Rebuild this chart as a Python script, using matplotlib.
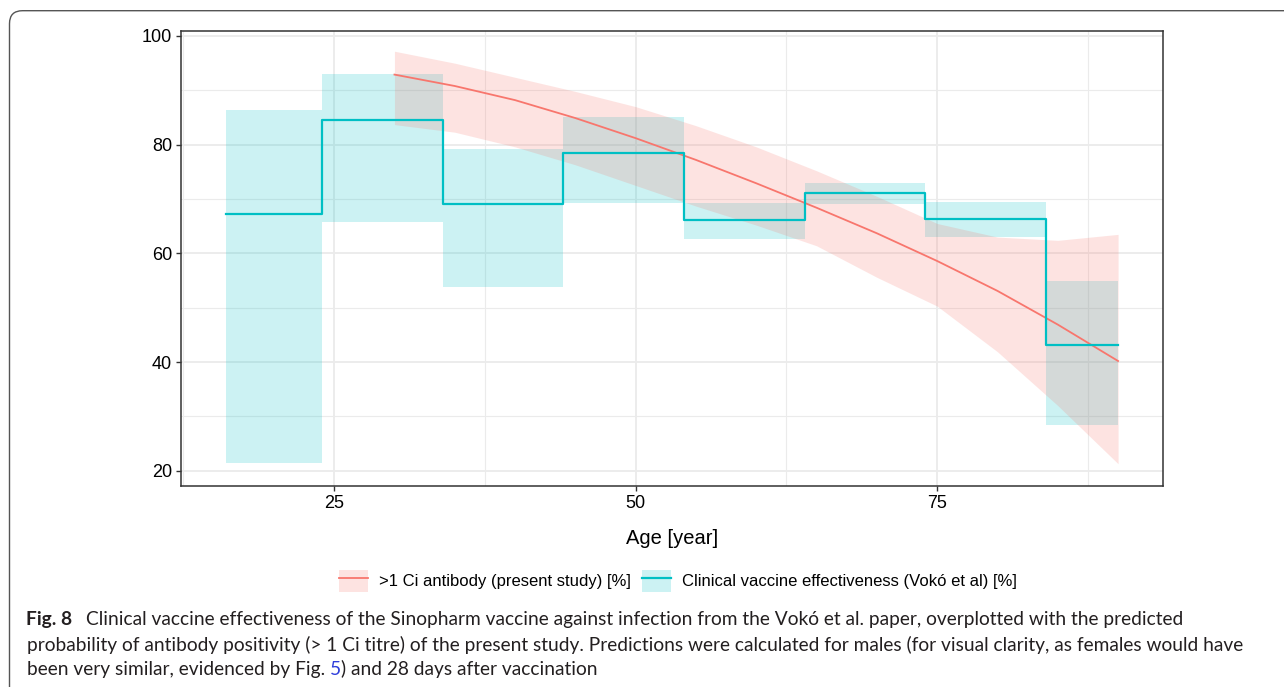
import matplotlib.pyplot as plt
import matplotlib.patches as mpatches
from matplotlib.lines import Line2D
from matplotlib.legend_handler import HandlerTuple

# clinical vaccine effectiveness by age band (Vokó et al)
ve_edges = [16, 24, 34, 44, 54, 64, 74, 84, 90]
ve_mid = [67.3, 84.5, 69.0, 78.5, 66.1, 71.1, 66.4, 43.2]
ve_low = [21.5, 65.8, 53.8, 69.2, 62.6, 69.0, 63.1, 28.5]
ve_high = [86.3, 93.0, 79.3, 85.1, 69.2, 73.0, 69.4, 54.9]

# predicted probability of >1 Ci antibody (males, 28 days)
ab_age = [30, 35, 40, 45, 50, 55, 60, 65, 70, 75, 80, 85, 90]
ab_pred = [92.9, 90.8, 88.2, 84.9, 81.2, 77.2, 72.9, 68.4, 63.7, 58.6, 53.1, 46.9, 40.2]
ab_low = [83.7, 82.3, 79.6, 76.3, 72.5, 68.7, 65.2, 61.4, 55.6, 50.3, 41.9, 32.0, 21.3]
ab_high = [97.2, 95.0, 92.4, 89.8, 87.0, 83.5, 79.6, 75.2, 70.5, 65.5, 63.0, 62.4, 63.5]

RED = '#F8766D'
CYAN = '#00BFC4'

plt.rcParams['font.family'] = ['Liberation Sans', 'DejaVu Sans']

fig = plt.figure(figsize=(12.84, 6.87), dpi=100)
ax = fig.add_axes([181 / 1284, 1 - 486 / 687, (1162.7 - 181) / 1284, (486 - 31) / 687])

# step series needs the last value repeated for the closing edge
ax.fill_between(ve_edges, ve_low + ve_low[-1:], ve_high + ve_high[-1:], step='post',
                color=CYAN, alpha=0.2, lw=0, zorder=2)
ax.fill_between(ab_age, ab_low, ab_high, color=RED, alpha=0.2, lw=0, zorder=2)
ax.plot(ab_age, ab_pred, color=RED, lw=1.3, zorder=3)
ax.step(ve_edges, ve_mid + ve_mid[-1:], where='post', color=CYAN, lw=1.6, zorder=4)

ax.set_xlim(12.3, 93.7)
ax.set_ylim(17.2, 100.92)
ax.set_xticks([25, 50, 75])
ax.set_xticks([12.5, 37.5, 62.5, 87.5], minor=True)
ax.set_yticks([20, 40, 60, 80, 100])
ax.set_yticks([30, 50, 70, 90], minor=True)
ax.grid(which='major', color='#EBEBEB', lw=1.3, zorder=0)
ax.grid(which='minor', color='#EBEBEB', lw=0.8, zorder=0)
ax.set_axisbelow(True)
ax.tick_params(which='major', length=3.5, width=1.0, color='#333333', labelsize=13,
               labelcolor='black', pad=3)
ax.tick_params(which='minor', length=0)
for s in ax.spines.values():
    s.set_color('#333333')
    s.set_linewidth(1.1)

ax.set_xlabel('Age [year]', fontsize=14.5, labelpad=12)

handles = [
    (mpatches.Patch(facecolor=RED, alpha=0.2, lw=0), Line2D([], [], color=RED, lw=1.3)),
    (mpatches.Patch(facecolor=CYAN, alpha=0.2, lw=0), Line2D([], [], color=CYAN, lw=1.6)),
]
labels = ['>1 Ci antibody (present study) [%]', 'Clinical vaccine effectiveness (Vokó et al) [%]']
fig.legend(handles, labels, handler_map={tuple: HandlerTuple(ndivide=1, pad=0)},
           loc='center', bbox_to_anchor=(678 / 1284, 1 - 581 / 687), ncol=2,
           frameon=False, fontsize=12, handlelength=1.74, handleheight=1.74,
           handletextpad=0.64, columnspacing=0.68, borderpad=0)

# rounded frame around the figure
frame = mpatches.FancyBboxPatch((9.5, -20), 1300, 696.3, boxstyle='round,pad=0,rounding_size=13',
                                transform=None, fill=False, ec='#555555', lw=1.0)
fig.patches.append(frame)

# caption
cap = dict(family=['Lato', 'DejaVu Sans'], fontsize=13.8, va='baseline', color='#231F20')
fig.text(26 / 1284, 1 - 625 / 687, 'Fig. 8', fontweight='bold', **cap)
fig.text(86 / 1284, 1 - 625 / 687,
         'Clinical vaccine effectiveness of the Sinopharm vaccine against infection from the '
         'Vokó et al. paper, overplotted with the predicted', **cap)
fig.text(27 / 1284, 1 - 651 / 687,
         'probability of antibody positivity (> 1 Ci titre) of the present study. Predictions were '
         'calculated for males (for visual clarity, as females would have', **cap)
t1 = fig.text(27 / 1284, 1 - 675 / 687, 'been very similar, evidenced by Fig. ', **cap)
t2 = plt.annotate('5', xy=(1, 0), xycoords=t1, va='bottom', ha='left',
                  family=['Lato', 'DejaVu Sans'], fontsize=13.8, color='#2F3EDB')
plt.annotate(') and 28 days after vaccination', xy=(1, 0), xycoords=t2, va='bottom', ha='left',
             family=['Lato', 'DejaVu Sans'], fontsize=13.8, color='#231F20')

fig.savefig('out.png', dpi=100)
